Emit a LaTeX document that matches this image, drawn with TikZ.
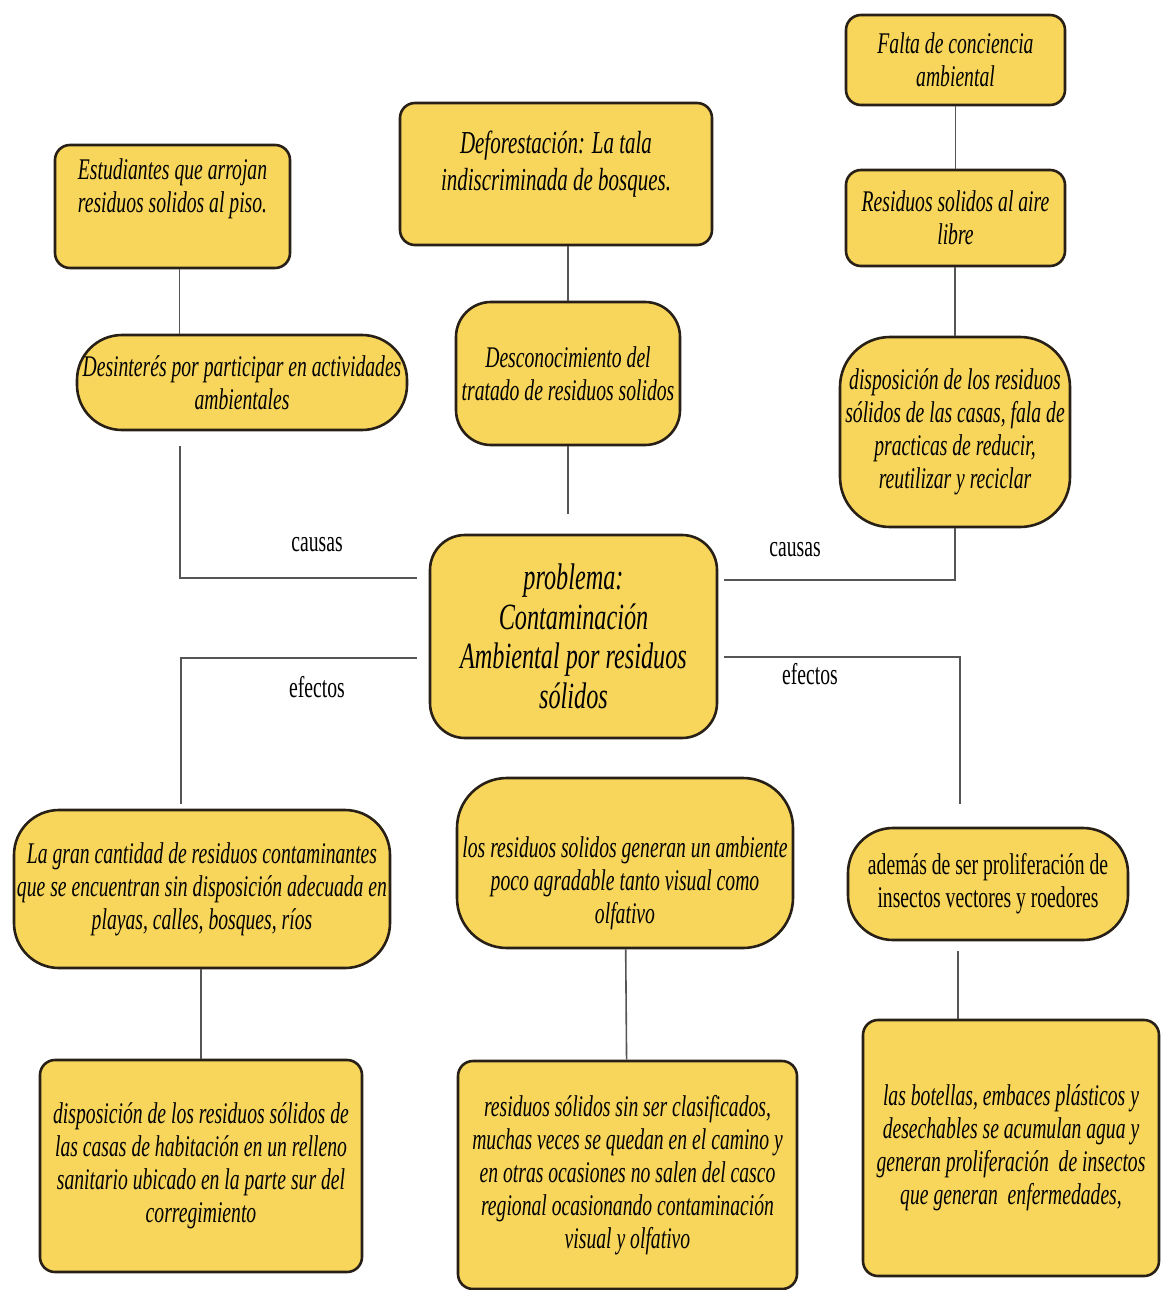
\documentclass[tikz,border=0pt]{standalone}
\usepackage{fontspec}
\setmainfont{Liberation Serif}[FakeStretch=0.655]
\usetikzlibrary{positioning, calc}
\definecolor{boxyellow}{RGB}{248, 214, 92}
\definecolor{boxedge}{RGB}{40, 32, 22}
\definecolor{linegray}{RGB}{85, 85, 85}

\begin{document}
\begin{tikzpicture}[
    x=1pt, y=-1pt,
    box/.style={rectangle, draw=boxedge, line width=2.6pt, fill=boxyellow, rounded corners=15pt, align=center, inner sep=2pt, font=\itshape\fontsize{30}{33}\selectfont},
    roundbox/.style={box, rounded corners=#1},
    plainbox/.style={box, font=\fontsize{30}{33}\selectfont},
    link/.style={draw=linegray, line width=1.6pt},
    label/.style={font=\fontsize{30}{33}\selectfont}
]
\useasboundingbox (0,0) rectangle (1160,1290);

% Causes, left column
\node[box, minimum width=235pt, minimum height=123pt, text depth=41pt] (est) at (172.5,206.5) {Estudiantes que arrojan\\residuos solidos al piso.};
\node[roundbox=45pt, minimum width=330pt, minimum height=95pt] (desint) at (242,382.5) {Desinterés por participar en actividades\\ambientales};

% Causes, middle column
\node[box, minimum width=312pt, minimum height=142pt, text depth=27pt, font=\itshape\fontsize{32}{37}\selectfont] (defo) at (556,174) {Deforestación: La tala\\indiscriminada de bosques.};
\node[roundbox=35pt, minimum width=224pt, minimum height=143pt] (descon) at (568,373.5) {Desconocimiento del\\tratado de residuos solidos};

% Causes, right column
\node[box, minimum width=219pt, minimum height=90pt] (falta) at (955.5,60) {Falta de conciencia\\ambiental};
\node[box, minimum width=219pt, minimum height=96pt] (aire) at (955.5,218) {Residuos solidos al aire\\libre};
\node[roundbox=50pt, minimum width=230pt, minimum height=190pt] (dispcasa) at (955,432) {disposición de los residuos\\sólidos de las casas, fala de\\practicas de reducir,\\reutilizar y reciclar};

% Problem
\node[roundbox=35pt, minimum width=287pt, minimum height=203pt, font=\itshape\fontsize{37}{39.5}\selectfont] (centro) at (573.5,636.5) {problema:\\Contaminación\\Ambiental por residuos\\sólidos};

% Effects
\node[roundbox=45pt, minimum width=376pt, minimum height=158pt] (gran) at (202,889) {La gran cantidad de residuos contaminantes\\que se encuentran sin disposición adecuada en\\playas, calles, bosques, ríos};
\node[roundbox=50pt, minimum width=336pt, minimum height=170pt, text height=128pt] (ambiente) at (625,863) {los residuos solidos generan un ambiente\\poco agradable tanto visual como\\olfativo};
\node[plainbox, rounded corners=45pt, minimum width=280pt, minimum height=112pt] (insectos) at (988,884) {además de ser proliferación de\\insectos vectores y roedores};

\node[box, minimum width=322pt, minimum height=212pt] (relleno) at (201,1166) {disposición de los residuos sólidos de\\las casas de habitación en un relleno\\sanitario ubicado en la parte sur del\\corregimiento};
\node[box, minimum width=339pt, minimum height=228pt] (casco) at (627.5,1175) {residuos sólidos sin ser clasificados,\\muchas veces se quedan en el camino y\\en otras ocasiones no salen del casco\\regional ocasionando contaminación\\visual y olfativo};
\node[box, minimum width=296pt, minimum height=256pt] (botellas) at (1011,1148) {las botellas, embaces plásticos y\\desechables se acumulan agua y\\generan proliferación \ de insectos\\que generan \ enfermedades,};

% Elbow points
\coordinate (cl) at (180,578);
\coordinate (cr) at (955,580);
\coordinate (el) at (181,658);
\coordinate (er) at (960,657);

% Connectors
\draw[link] ([xshift=7pt]est.south) -- ([xshift=7pt]est.south |- desint.north);
\draw[link] (defo.south -| descon) -- (descon.north);
\draw[link] (falta) -- (aire);
\draw[link] (aire.south -| dispcasa) -- (dispcasa.north);
\draw[link, shorten >=20pt] (descon.south) -- (descon.south |- centro.north);
\draw[link, shorten <=15pt, shorten >=12pt] (desint.south -| cl) -- (cl) -- (centro.west |- cl);
\draw[link, shorten >=6pt] (dispcasa.south) -- (cr) -- (centro.east |- cr);
\draw[link, shorten <=12pt, shorten >=5pt] (centro.west |- el) -- (el) -- (gran.north -| el);
\draw[link, shorten <=6pt, shorten >=23pt] (centro.east |- er) -- (er) -- (insectos.north -| er);
\draw[link] (gran.south -| relleno) -- (relleno.north);
\draw[link] (ambiente) -- (casco);
\draw[link, shorten <=10pt] ([xshift=-30pt]insectos.south) -- ([xshift=-30pt]insectos.south |- botellas.north);

% Labels
\node[label] (causasl) at (317,545) {causas};
\node[label] (causasr) at (795,550) {causas};
\node[label] (efectosl) at (317,687) {efectos};
\node[label] (efectosr) at (810,674) {efectos};

\end{tikzpicture}
\end{document}
